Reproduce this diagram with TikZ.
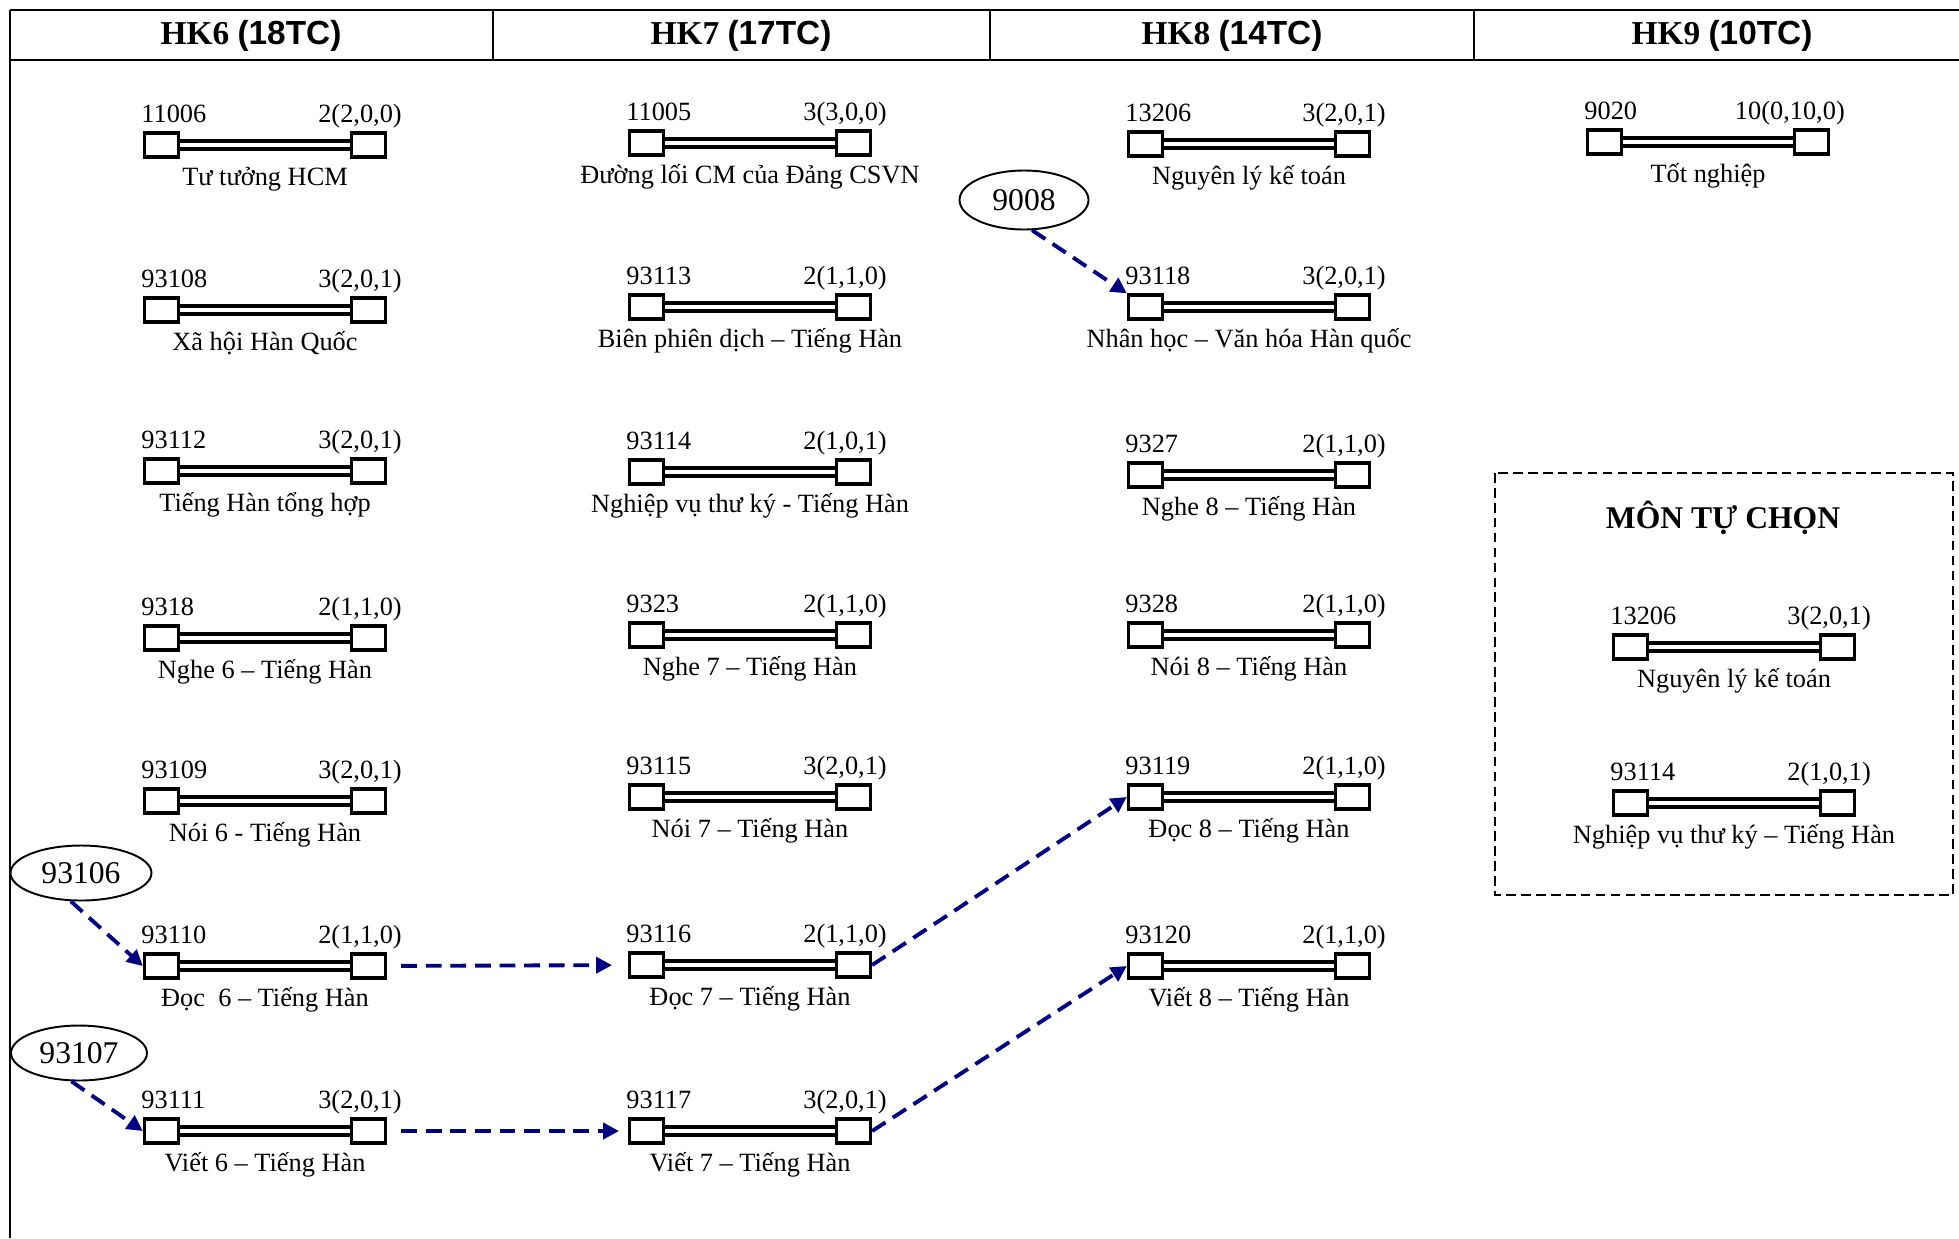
\documentclass[tikz,border=0pt]{standalone}
\usepackage{fontspec}
\setmainfont{Liberation Serif}
\newfontfamily\chuSans{Liberation Sans}
\usepackage{tikz}
\usetikzlibrary{shapes.geometric,arrows.meta}
\definecolor{xanhDam}{RGB}{0,0,128}

\tikzset{
  oVuong/.style={draw, line width=1.9pt, fill=white, minimum width=0.68cm, minimum height=0.48cm, inner sep=0pt},
  thanhDoi/.style={double, line width=2.3pt, double distance=2.3pt},
  nhan/.style={inner sep=0pt, font=\fontsize{15}{17}\selectfont},
  tieuDe/.style={font=\fontsize{19}{22}\selectfont\bfseries},
  maTruoc/.style={ellipse, draw, line width=1.1pt, inner sep=0pt, font=\fontsize{18}{20}\selectfont},
  muiTen/.style={xanhDam, line width=2.2pt, dash pattern=on 9pt off 5pt, -{Triangle[length=9pt,width=9pt]}},
  khungTuChon/.style={line width=1.4pt, dash pattern=on 5.5pt off 3pt},
  duongKe/.style={line width=1.5pt}
}

% mot mon hoc: ten, x, y, ma, tin chi, ten mon
\newcommand{\monhoc}[6]{%
  \node[oVuong] (#1-l) at (#2-103.5,#3) {};
  \node[oVuong] (#1-r) at (#2+103.5,#3) {};
  \draw[thanhDoi] (#1-l.east) -- (#1-r.west);
  \node[nhan, anchor=base west] (#1-ma) at ([xshift=-1pt,yshift=5pt]#1-l.north west) {#4};
  \node[nhan, anchor=base east] (#1-tc) at ([xshift=8.5pt,yshift=5pt]#1-r.north east) {#5};
  \node[nhan, anchor=base] (#1-ten) at (#2,#3+40) {#6};
}

\begin{document}
\begin{tikzpicture}[x=0.02cm, y=-0.02cm]
  \useasboundingbox (0,0) rectangle (1959,1238);

  % Header
  \draw[duongKe] (10,10) -- (1959,10);
  \draw[duongKe] (10,60) -- (1959,60);
  \draw[duongKe] (10,10) -- (10,1238);
  \foreach \x in {493,990,1474} \draw[duongKe] (\x,10) -- (\x,60);
  \node[tieuDe] (hk6) at (251,36) {HK6 {\chuSans(18TC)}};
  \node[tieuDe] (hk7) at (741,36) {HK7 {\chuSans(17TC)}};
  \node[tieuDe] (hk8) at (1232,36) {HK8 {\chuSans(14TC)}};
  \node[tieuDe] (hk9) at (1722,36) {HK9 {\chuSans(10TC)}};

  % HK6
  \monhoc{c11006}{265}{145}{11006}{2(2,0,0)}{Tư tưởng HCM}
  \monhoc{c93108}{265}{310}{93108}{3(2,0,1)}{Xã hội Hàn Quốc}
  \monhoc{c93112}{265}{471}{93112}{3(2,0,1)}{Tiếng Hàn tổng hợp}
  \monhoc{c9318}{265}{638}{9318}{2(1,1,0)}{Nghe 6 – Tiếng Hàn}
  \monhoc{c93109}{265}{801}{93109}{3(2,0,1)}{Nói 6 - Tiếng Hàn}
  \monhoc{c93110}{265}{966}{93110}{2(1,1,0)}{Đọc\ \ 6 – Tiếng Hàn}
  \monhoc{c93111}{265}{1131}{93111}{3(2,0,1)}{Viết 6 – Tiếng Hàn}

  % HK7
  \monhoc{c11005}{750}{143}{11005}{3(3,0,0)}{Đường lối CM của Đảng CSVN}
  \monhoc{c93113}{750}{307}{93113}{2(1,1,0)}{Biên phiên dịch – Tiếng Hàn}
  \monhoc{c93114}{750}{472}{93114}{2(1,0,1)}{Nghiệp vụ thư ký - Tiếng Hàn}
  \monhoc{c9323}{750}{635}{9323}{2(1,1,0)}{Nghe 7 – Tiếng Hàn}
  \monhoc{c93115}{750}{797}{93115}{3(2,0,1)}{Nói 7 – Tiếng Hàn}
  \monhoc{c93116}{750}{965}{93116}{2(1,1,0)}{Đọc 7 – Tiếng Hàn}
  \monhoc{c93117}{750}{1131}{93117}{3(2,0,1)}{Viết 7 – Tiếng Hàn}

  % HK8
  \monhoc{c13206}{1249}{144}{13206}{3(2,0,1)}{Nguyên lý kế toán}
  \monhoc{c93118}{1249}{307}{93118}{3(2,0,1)}{Nhân học – Văn hóa Hàn quốc}
  \monhoc{c9327}{1249}{475}{9327}{2(1,1,0)}{Nghe 8 – Tiếng Hàn}
  \monhoc{c9328}{1249}{635}{9328}{2(1,1,0)}{Nói 8 – Tiếng Hàn}
  \monhoc{c93119}{1249}{797}{93119}{2(1,1,0)}{Đọc 8 – Tiếng Hàn}
  \monhoc{c93120}{1249}{966}{93120}{2(1,1,0)}{Viết 8 – Tiếng Hàn}

  % HK9
  \monhoc{c9020}{1708}{142}{9020}{10(0,10,0)}{Tốt nghiệp}

  % Mon tu chon
  \draw[khungTuChon] (1495,473) rectangle (1953,895);
  \node[font=\fontsize{18}{20}\selectfont\bfseries] (tuchon) at (1723,518) {MÔN TỰ CHỌN};
  \monhoc{tc13206}{1734}{647}{13206}{3(2,0,1)}{Nguyên lý kế toán}
  \monhoc{tc93114}{1734}{803}{93114}{2(1,0,1)}{Nghiệp vụ thư ký – Tiếng Hàn}

  % Mon tien quyet
  \node[maTruoc, minimum width=2.82cm, minimum height=1.1cm] (e93106) at (81,873) {93106};
  \node[maTruoc, minimum width=2.72cm, minimum height=1.1cm] (e93107) at (79,1053) {93107};
  \node[maTruoc, minimum width=2.58cm, minimum height=1.18cm] (e9008) at (1024,200) {9008};

  % Arrows
  \draw[muiTen] (e93106.250) -- (c93110-l.west);
  \draw[muiTen] (e93107.255) -- (c93111-l.west);
  \draw[muiTen] (e9008.285) -- (c93118-l.north west);
  \draw[muiTen, shorten <=8pt, shorten >=9pt] (c93110-r) -- (c93116-l);
  \draw[muiTen, shorten <=8pt, shorten >=5pt] (c93111-r) -- (c93117-l);
  \draw[muiTen] (c93116-r.east) -- (c93119-l.west);
  \draw[muiTen] (c93117-r.east) -- (c93120-l.west);
\end{tikzpicture}
\end{document}
